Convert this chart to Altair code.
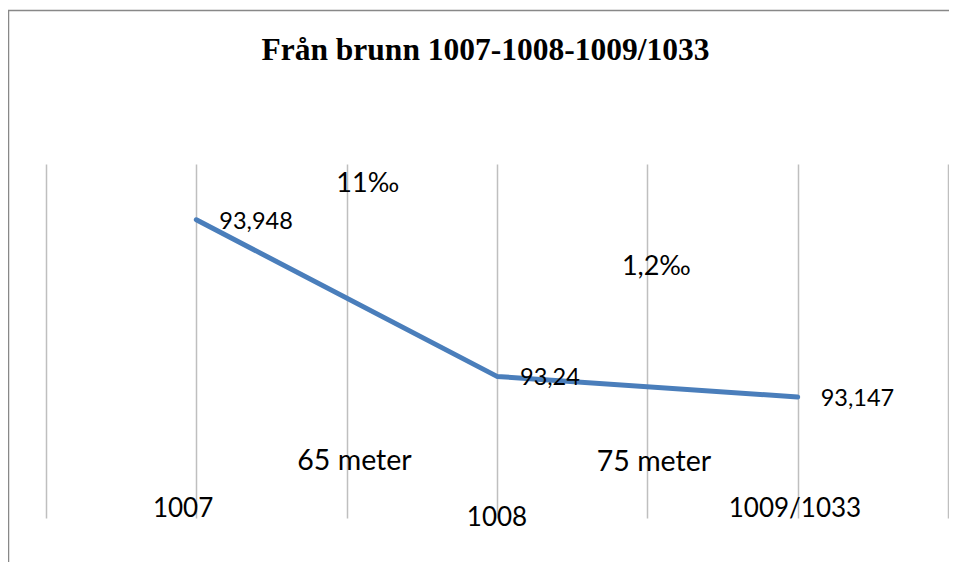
import altair as alt
import pandas as pd

# ---- data ----
categories = ["1007", "1008", "1009/1033"]
levels = [93.948, 93.24, 93.147]
level_labels = ["93,948", "93,24", "93,147"]

slope_texts = ["11‰", "1,2‰"]
distance_texts = ["65 meter", "75 meter"]
title_text = "Från brunn 1007-1008-1009/1033"

# annotation anchors in data units (x = category index axis, y = level)
cat_label_x = [0.456, 1.5, 2.491]
cat_label_y = [92.641, 92.600, 92.641]
slope_x = [1.07, 2.03]
slope_y = [94.11, 93.734]
distance_x = [1.026, 2.022]
distance_y = [92.858, 92.851]

# ---- tables ----
line_df = pd.DataFrame({
    "cat": categories,
    "idx": [i + 0.5 for i in range(len(categories))],
    "level": levels,
    "label": level_labels,
})
cat_df = pd.DataFrame({"text": categories, "x": cat_label_x, "y": cat_label_y})
slope_df = pd.DataFrame({"text": slope_texts, "x": slope_x, "y": slope_y})
dist_df = pd.DataFrame({"text": distance_texts, "x": distance_x, "y": distance_y})
frame_df = pd.DataFrame({"k": [0]})

x_scale = alt.Scale(domain=[0, 3], nice=False, zero=False)
y_scale = alt.Scale(domain=[92.6, 94.2], nice=False, zero=False)
x_axis = alt.Axis(values=[0, 0.5, 1, 1.5, 2, 2.5, 3], grid=True, labels=False,
                  ticks=False, domain=False, title=None,
                  gridColor="#BFBFBF", gridWidth=1.5)

FONT = "Lato"


def text_layer(df, size, xf="x", yf="y", **kw):
    return alt.Chart(df).mark_text(
        baseline="middle", font=FONT, fontSize=size, color="#000000", **kw
    ).encode(
        x=alt.X(f"{xf}:Q", scale=x_scale, axis=x_axis),
        y=alt.Y(f"{yf}:Q", scale=y_scale, axis=None),
        text="text:N",
    )


line = alt.Chart(line_df).mark_line(
    color="#4A7EBB", strokeWidth=5, strokeCap="round", strokeJoin="round"
).encode(
    x=alt.X("idx:Q", scale=x_scale, axis=x_axis),
    y=alt.Y("level:Q", scale=y_scale, axis=None),
)

value_labels = alt.Chart(line_df).mark_text(
    align="left", baseline="middle", dx=23, dy=2, font=FONT, fontSize=23.5, color="#000000"
).encode(
    x=alt.X("idx:Q", scale=x_scale, axis=x_axis),
    y=alt.Y("level:Q", scale=y_scale, axis=None),
    text="label:N",
)

cat_labels = text_layer(cat_df, 26, align="center")
slopes = text_layer(slope_df, 27, align="center")
dists = text_layer(dist_df, 28.5, align="center")

frame_left = alt.Chart(frame_df).mark_rule(color="#888888", strokeWidth=1.5).encode(
    x=alt.value(-37.5), y=alt.value(-154), y2=alt.value(430)
)
frame_top = alt.Chart(frame_df).mark_rule(color="#888888", strokeWidth=1.5).encode(
    x=alt.value(-38), x2=alt.value(903), y=alt.value(-153.5)
)

chart = alt.layer(frame_left, frame_top, line, value_labels, cat_labels, slopes, dists).properties(
    width=902,
    height=354,
    autosize=alt.AutoSizeParams(type="none"),
    padding={"left": 38, "top": 156, "right": 1, "bottom": 44},
    title=alt.TitleParams(
        text=title_text, font="Liberation Serif", fontSize=31.5, fontWeight="bold",
        color="#000000", anchor="middle", frame="group", baseline="alphabetic",
        offset=-82, dx=-11.5,
    ),
).configure_view(strokeWidth=0)

chart.save("out.html", embed_options={"renderer": "svg", "actions": False})
